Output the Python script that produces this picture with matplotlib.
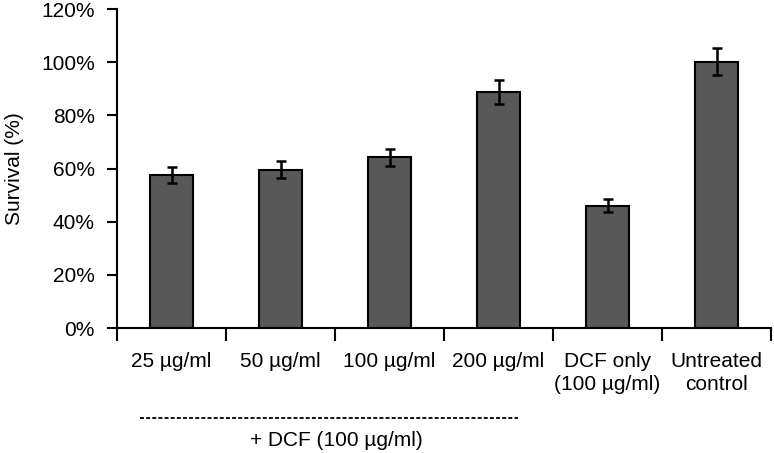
import numpy as np
import matplotlib
matplotlib.use('Agg')
import matplotlib.pyplot as plt
from matplotlib.ticker import PercentFormatter

plt.rcParams['font.family'] = ['Liberation Sans', 'DejaVu Sans']

categories = ['25 µg/ml', '50 µg/ml', '100 µg/ml', '200 µg/ml',
              'DCF only\n(100 µg/ml)', 'Untreated\ncontrol']
survival = [57.4, 59.6, 64.2, 88.8, 46.0, 100.2]
errors = [3.0, 3.2, 3.2, 4.5, 2.4, 5.0]
group_label = '+ DCF (100 µg/ml)'

fig = plt.figure(figsize=(7.74, 4.53), dpi=100)
ax = fig.add_axes([0.1512, 0.2759, 0.845, 0.704])

x = np.arange(len(categories))
ax.bar(x, survival, width=0.4, color='#585858', edgecolor='black', linewidth=1.5,
       yerr=errors, error_kw=dict(ecolor='black', elinewidth=1.8, capsize=3.5, capthick=1.8))

ax.set_xlim(-0.5, len(categories) - 0.5)
ax.set_ylim(0, 120)
ax.set_yticks(np.arange(0, 121, 20))
ax.yaxis.set_major_formatter(PercentFormatter(decimals=0))
ax.set_xticks(np.arange(-0.5, len(categories), 1.0))
ax.set_xticklabels([])
ax.set_xticks(x, minor=True)
ax.set_xticklabels(categories, minor=True, linespacing=1.3)
ax.tick_params(axis='x', which='minor', length=0, pad=17, labelsize=15)
ax.tick_params(axis='x', which='major', length=9, width=1.5, direction='out')
ax.tick_params(axis='y', length=7, width=1.5, labelsize=15, pad=9)

for s in ['top', 'right']:
    ax.spines[s].set_visible(False)
for s in ['left', 'bottom']:
    ax.spines[s].set_linewidth(1.5)

ax.set_ylabel('Survival (%)', fontsize=15, labelpad=12)

# dashed bracket line under the first four groups
fig.lines.append(plt.Line2D([140 / 774, 518 / 774], [1 - 418 / 453, 1 - 418 / 453],
                            transform=fig.transFigure, color='black', linestyle=(0, (2.2, 1.2)),
                            linewidth=1.3))
fig.text(336 / 774, 1 - 441 / 453, group_label, ha='center', va='center', fontsize=15)

fig.savefig('out.png', dpi=100)
